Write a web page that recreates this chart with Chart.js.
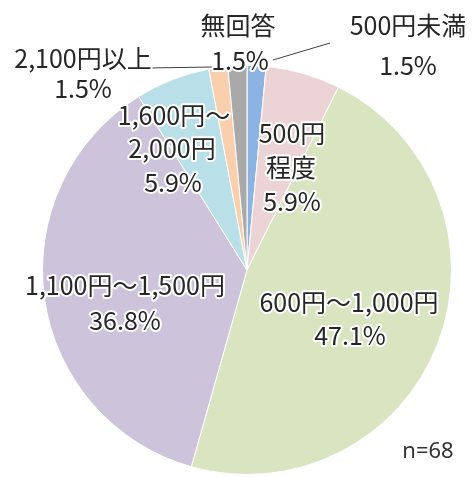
<!DOCTYPE html>
<html>
<head>
<meta charset="utf-8">
<script src="https://cdn.jsdelivr.net/npm/chart.js@4/dist/chart.umd.min.js"></script>
<style>
  html, body { margin: 0; padding: 0; background: #fff; }
  #wrap { width: 476px; height: 477px; }
</style>
</head>
<body>
<div id="wrap"><canvas id="pie" width="476" height="477"></canvas></div>
<script>
// 回答の区分と割合（%）
const categories = ['500円未満', '500円程度', '600円～1,000円', '1,100円～1,500円', '1,600円～2,000円', '2,100円以上', '無回答'];
const percents = [1.5, 5.9, 47.1, 36.8, 5.9, 1.5, 1.5];
// ラベルの表示行（割合はpercentsから付ける）
const labelLines = [['500円未満'], ['500円', '程度'], ['600円～1,000円'], ['1,100円～1,500円'], ['1,600円～', '2,000円'], ['2,100円以上'], ['無回答']];
const sampleNote = 'n=68';

const colors = ['#8db3e2', '#ecd3d6', '#d9e5c1', '#cdc4dc', '#b9dfe8', '#f9cfae', '#a9a9a9'];

// ラベル位置（円の中心からのずれ px, 行ごと）
const labelPos = [
    [[161, -245], [161, -205]],
    [[45, -137], [44, -103], [45, -69]],
    [[102, 32], [103, 65]],
    [[-122, 15], [-122, 50]],
    [[-73, -155], [-75, -122], [-74, -88]],
    [[-164, -212], [-164, -182]],
    [[-9, -245], [-7, -210]]
];
// 引き出し線
const leaders = [
    [[26, -210], [83, -227]],
    [[-100, -202], [-34, -203]]
];

const labelPlugin = {
    id: 'pieLabels',
    afterDatasetsDraw(chart) {
        const arc = chart.getDatasetMeta(0).data[0];
        const cx = arc.x, cy = arc.y;
        const ctx = chart.ctx;
        ctx.save();

        ctx.strokeStyle = '#404040';
        ctx.lineWidth = 1;
        leaders.forEach(l => {
            ctx.beginPath();
            ctx.moveTo(cx + l[0][0], cy + l[0][1]);
            ctx.lineTo(cx + l[1][0], cy + l[1][1]);
            ctx.stroke();
        });

        ctx.font = '25px "Noto Sans CJK JP", "Noto Sans", sans-serif';
        ctx.textAlign = 'center';
        ctx.textBaseline = 'middle';
        ctx.lineJoin = 'round';
        categories.forEach((c, i) => {
            const lines = labelLines[i].concat([percents[i].toFixed(1) + '%']);
            lines.forEach((t, j) => {
                const p = labelPos[i][j];
                ctx.strokeStyle = '#ffffff';
                ctx.lineWidth = 4;
                ctx.strokeText(t, cx + p[0], cy + p[1]);
                ctx.fillStyle = '#262626';
                ctx.fillText(t, cx + p[0], cy + p[1]);
            });
        });

        ctx.font = '22px "Noto Sans", "DejaVu Sans", sans-serif';
        ctx.fillStyle = '#333333';
        ctx.fillText(sampleNote, cx + 181, cy + 182);
        ctx.restore();
    }
};

new Chart(document.getElementById('pie').getContext('2d'), {
    type: 'pie',
    data: {
        labels: categories,
        datasets: [{
            data: percents,
            backgroundColor: colors,
            borderColor: '#ffffff',
            borderWidth: 1
        }]
    },
    options: {
        responsive: false,
        animation: false,
        layout: { padding: { left: 42, right: 24, top: 65, bottom: 2 } },
        plugins: {
            legend: { display: false },
            tooltip: { enabled: false }
        }
    },
    plugins: [labelPlugin]
});
</script>
</body>
</html>
